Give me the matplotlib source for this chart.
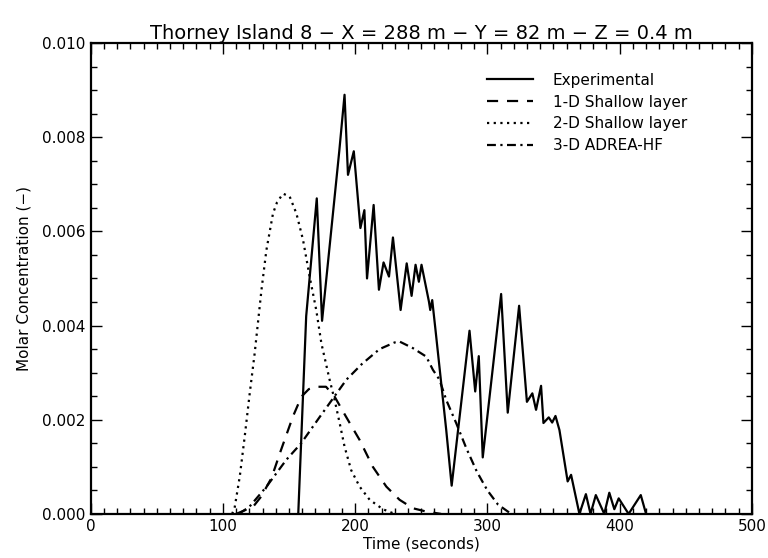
import numpy as np
import matplotlib
matplotlib.use("Agg")
import matplotlib.pyplot as plt
from matplotlib.ticker import MultipleLocator, FormatStrFormatter

# experimental (solid)
exp_t = [157, 163, 171, 175, 188, 192, 194.6, 199, 204, 207, 209, 214, 218, 221.5, 225.6,
         228.6, 234.4, 239, 242.7, 245.7, 248.2, 250.2, 255.8, 256.8, 258.3, 260.8, 268.9,
         273, 286.5, 290.8, 293.5, 296.5, 310.4, 315.4, 324, 329.9, 334, 336.8, 340.6,
         342.4, 346.4, 349, 351.5, 354.5, 360.7, 363.3, 369.6, 374.5, 378, 382, 388.4,
         392.2, 396, 399.3, 406.8, 416, 420]
exp_c = [0.0, 0.0042, 0.0067, 0.0041, 0.0077, 0.0089, 0.0072, 0.0077, 0.00607, 0.00645,
         0.0050, 0.00656, 0.00476, 0.00534, 0.00504, 0.00587, 0.00433, 0.00532, 0.00463,
         0.00529, 0.00493, 0.00529, 0.00451, 0.00433, 0.00454, 0.0039, 0.00178, 0.0006,
         0.00389, 0.0026, 0.00335, 0.0012, 0.00467, 0.00215, 0.00442, 0.00238, 0.00256,
         0.00221, 0.00272, 0.00193, 0.00205, 0.00194, 0.00208, 0.00178, 0.00069, 0.00083,
         0.0, 0.00042, 0.0, 0.0004, 0.0, 0.00045, 0.0001, 0.00033, 0.0, 0.0004, 0.0]

# 1-D shallow layer (dashed)
sl1_t = [110, 122.8, 129, 136.7, 144, 153, 159.4, 165, 170.7, 178, 184.5, 193, 203.4,
         213.4, 223.6, 233.6, 243.7, 253.8, 265]
sl1_c = [0.0, 0.00015, 0.00037, 0.00076, 0.00136, 0.00207, 0.00249, 0.00265, 0.0027,
         0.0027, 0.00249, 0.00207, 0.00157, 0.0010, 0.00058, 0.0003, 0.00012, 0.00005, 0.0]

# 2-D shallow layer (dotted)
sl2_t = [107, 109, 112.8, 116.5, 120.3, 124, 129.2, 132.9, 137.9, 141, 145.5, 150.5, 155.6,
         160.6, 165.6, 170.6, 174.5, 180.7, 184.5, 188.3, 192, 197, 203.4, 211, 221, 230]
sl2_c = [0.0, 0.00015, 0.0008, 0.00164, 0.00256, 0.0034, 0.00476, 0.0056, 0.00638,
         0.00662, 0.0068, 0.00674, 0.00638, 0.00582, 0.00504, 0.00433, 0.00362, 0.00285,
         0.00242, 0.00193, 0.00143, 0.00093, 0.00058, 0.0003, 0.0001, 0.0]

# 3-D ADREA-HF (dash-dot)
adr_t = [112, 120, 133, 148, 159.2, 173, 184.5, 193.4, 205, 218.5, 229.8, 233.6, 243.7,
         253.8, 258.8, 263.8, 268.9, 276.4, 284, 292, 300, 308, 318]
adr_c = [0.0, 0.00015, 0.00058, 0.00115, 0.0015, 0.00205, 0.0025, 0.00285, 0.00318,
         0.0035, 0.00364, 0.00366, 0.00352, 0.00334, 0.00306, 0.00285, 0.00242, 0.00193,
         0.0014, 0.0009, 0.0005, 0.0002, 0.0]

fig = plt.figure(figsize=(7.68, 5.58), dpi=100)
ax = fig.add_axes([0.118, 0.079, 0.861, 0.844])

lw = 1.6
ax.plot(exp_t, exp_c, color="black", lw=lw, label="Experimental")
ax.plot(sl1_t, sl1_c, color="black", lw=lw, dashes=(5, 4), label="1-D Shallow layer")
ax.plot(sl2_t, sl2_c, color="black", lw=lw, dashes=(1, 2), label="2-D Shallow layer")
ax.plot(adr_t, adr_c, color="black", lw=lw, dashes=(4, 2, 1, 2), label="3-D ADREA-HF")

ax.set_xlim(0, 500)
ax.set_ylim(0, 0.010)
ax.xaxis.set_major_locator(MultipleLocator(100))
ax.xaxis.set_minor_locator(MultipleLocator(10))
ax.yaxis.set_major_locator(MultipleLocator(0.002))
ax.yaxis.set_minor_locator(MultipleLocator(0.0005))
ax.yaxis.set_major_formatter(FormatStrFormatter("%.3f"))
ax.tick_params(which="both", direction="in", top=True, right=True, width=1.0,
               labelsize=11)
ax.tick_params(which="major", length=8)
ax.tick_params(which="minor", length=4)
for s in ax.spines.values():
    s.set_linewidth(1.6)

ax.set_title("Thorney Island 8 \u2212 X = 288 m \u2212 Y = 82 m \u2212 Z = 0.4 m",
             fontsize=14, pad=3)
ax.set_xlabel("Time (seconds)", fontsize=11, labelpad=2)
ax.set_ylabel("Molar Concentration (\u2212)", fontsize=11, labelpad=8)

ax.legend(loc="upper left", bbox_to_anchor=(0.588, 0.953), frameon=False, fontsize=11,
          handlelength=3.0, handletextpad=1.3, labelspacing=0.45, borderpad=0)

fig.savefig("out.png", dpi=100)
